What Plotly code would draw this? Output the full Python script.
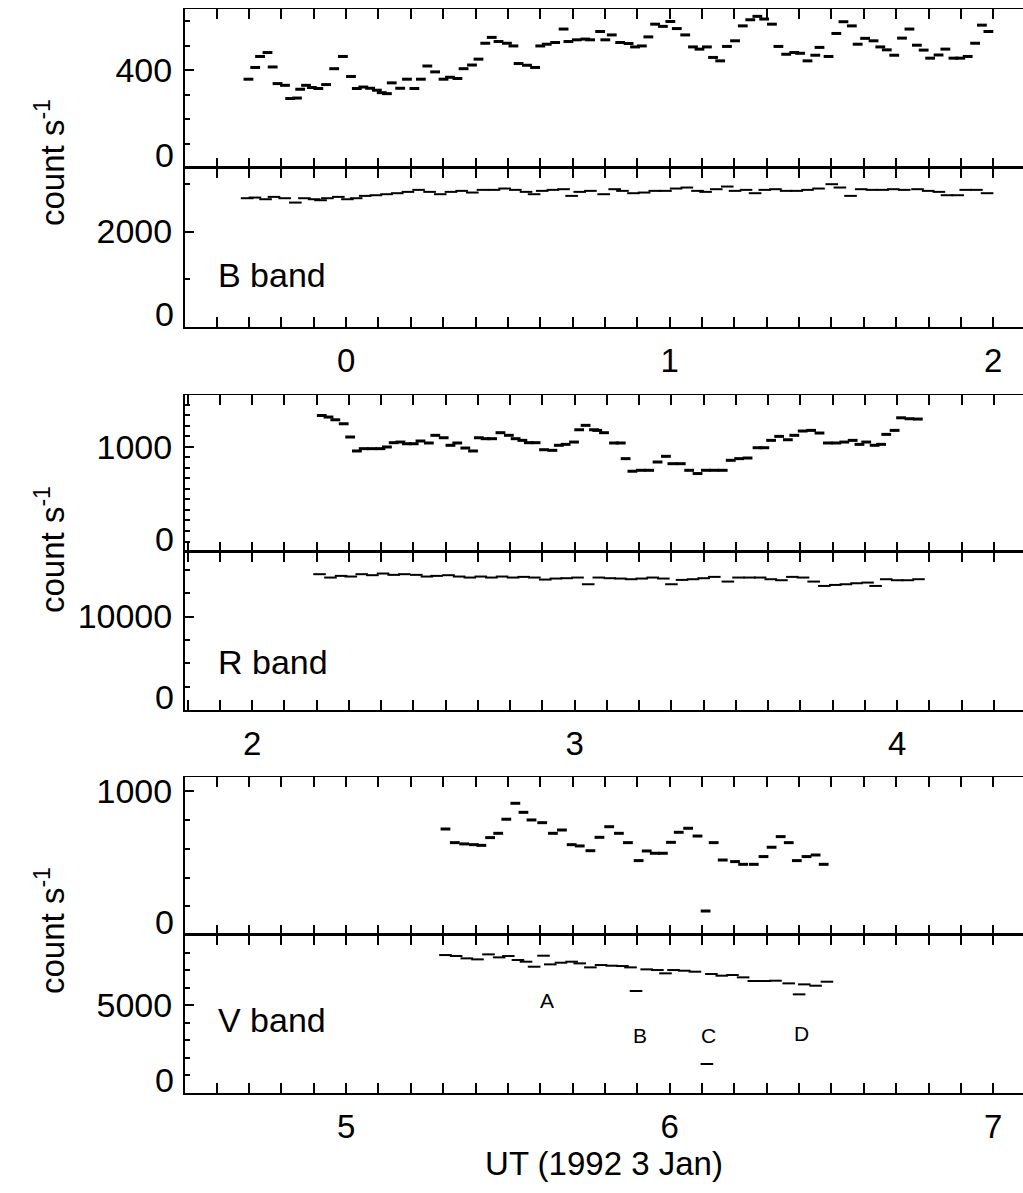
import plotly.graph_objects as go

# ---------------- data (UT hours, counts per second) ----------------
# B band, upper panel
b_hi_t = [-0.302, -0.281, -0.266, -0.243, -0.227, -0.212, -0.189, -0.173, -0.152, -0.142,
          -0.124, -0.106, -0.086, -0.062, -0.037, -0.010, 0.015, 0.033, 0.053, 0.074,
          0.095, 0.110, 0.126, 0.141, 0.167, 0.188, 0.211, 0.231, 0.251, 0.275,
          0.301, 0.321, 0.344, 0.363, 0.389, 0.409, 0.430, 0.450, 0.471, 0.497,
          0.517, 0.533, 0.559, 0.584, 0.600, 0.620, 0.646, 0.672, 0.687, 0.713,
          0.739, 0.754, 0.785, 0.801, 0.821, 0.847, 0.873, 0.893, 0.914, 0.934,
          0.955, 0.979, 1.002, 1.022, 1.048, 1.072, 1.092, 1.115, 1.134, 1.156,
          1.177, 1.202, 1.226, 1.249, 1.271, 1.292, 1.316, 1.336, 1.360, 1.385,
          1.403, 1.426, 1.450, 1.463, 1.491, 1.515, 1.537, 1.563, 1.581, 1.604,
          1.630, 1.651, 1.671, 1.694, 1.718, 1.741, 1.764, 1.785, 1.805, 1.831,
          1.852, 1.877, 1.898, 1.921, 1.944, 1.965, 1.985]
b_hi_c = [363, 411, 456, 472, 413, 345, 338, 284, 286, 322,
          338, 329, 325, 341, 406, 456, 374, 325, 331, 326,
          318, 308, 304, 348, 326, 363, 325, 363, 417, 393,
          363, 371, 366, 406, 421, 445, 510, 534, 517, 510,
          499, 427, 420, 411, 499, 506, 513, 568, 517, 524,
          527, 524, 558, 524, 544, 513, 509, 495, 499, 536,
          588, 579, 599, 570, 544, 495, 486, 495, 452, 438,
          497, 520, 581, 606, 620, 609, 588, 497, 465, 472,
          469, 438, 461, 493, 456, 550, 598, 581, 506, 530,
          520, 495, 483, 461, 531, 568, 502, 482, 449, 462,
          486, 449, 449, 456, 510, 584, 558]

# B band, lower panel
b_lo_t = [-0.306, -0.282, -0.249, -0.223, -0.190, -0.157, -0.129, -0.099, -0.079, -0.058,
          -0.024, 0.004, 0.031, 0.059, 0.092, 0.125, 0.158, 0.191, 0.224, 0.258,
          0.291, 0.324, 0.357, 0.390, 0.423, 0.457, 0.490, 0.523, 0.556, 0.581,
          0.606, 0.639, 0.672, 0.697, 0.722, 0.755, 0.796, 0.830, 0.854, 0.888,
          0.921, 0.954, 0.987, 1.020, 1.053, 1.086, 1.111, 1.144, 1.178, 1.202,
          1.236, 1.264, 1.294, 1.327, 1.360, 1.393, 1.426, 1.460, 1.501, 1.526,
          1.559, 1.592, 1.625, 1.658, 1.691, 1.725, 1.766, 1.799, 1.832, 1.857,
          1.890, 1.915, 1.948, 1.981]
b_lo_c = [2697, 2711, 2676, 2725, 2697, 2606, 2697, 2676, 2655, 2697,
          2725, 2676, 2697, 2746, 2760, 2781, 2802, 2830, 2872, 2830,
          2781, 2830, 2851, 2816, 2872, 2872, 2900, 2872, 2830, 2781,
          2851, 2872, 2886, 2746, 2830, 2851, 2781, 2886, 2851, 2802,
          2816, 2851, 2851, 2900, 2921, 2851, 2830, 2886, 2942, 2851,
          2872, 2802, 2872, 2886, 2851, 2851, 2872, 2900, 2991, 2921,
          2746, 2886, 2872, 2872, 2886, 2872, 2886, 2851, 2830, 2760,
          2760, 2872, 2872, 2802]

# R band, upper panel
r_hi_t = [2.216, 2.237, 2.258, 2.284, 2.304, 2.325, 2.346, 2.372, 2.398, 2.418,
          2.439, 2.460, 2.480, 2.501, 2.522, 2.548, 2.568, 2.594, 2.615, 2.636,
          2.661, 2.685, 2.703, 2.724, 2.744, 2.770, 2.796, 2.817, 2.838, 2.858,
          2.879, 2.905, 2.931, 2.951, 2.972, 2.998, 3.014, 3.034, 3.060, 3.070,
          3.091, 3.122, 3.143, 3.158, 3.179, 3.205, 3.231, 3.257, 3.283, 3.303,
          3.329, 3.355, 3.381, 3.407, 3.433, 3.459, 3.484, 3.510, 3.536, 3.567,
          3.588, 3.609, 3.634, 3.661, 3.681, 3.707, 3.733, 3.759, 3.785, 3.811,
          3.836, 3.862, 3.883, 3.904, 3.930, 3.950, 3.966, 3.992, 4.012, 4.038,
          4.064]
r_hi_c = [1300, 1285, 1259, 1221, 1095, 962, 984, 984, 984, 1000,
          1041, 1047, 1031, 1031, 1057, 1038, 1111, 1088, 1016, 1038,
          990, 962, 1088, 1079, 1079, 1136, 1111, 1079, 1063, 1041,
          1041, 974, 968, 1016, 1025, 1047, 1164, 1206, 1164, 1158,
          1136, 1038, 1038, 889, 769, 778, 778, 857, 911, 841,
          841, 778, 747, 778, 778, 778, 873, 889, 895, 993,
          993, 1063, 1101, 1069, 1111, 1152, 1158, 1133, 1038, 1038,
          1047, 1063, 1025, 1047, 1016, 1025, 1120, 1158, 1278, 1269,
          1266]

# R band, lower panel
r_lo_t = [2.209, 2.243, 2.276, 2.306, 2.340, 2.373, 2.406, 2.439, 2.472, 2.509,
          2.542, 2.572, 2.609, 2.642, 2.675, 2.709, 2.742, 2.775, 2.809, 2.842,
          2.875, 2.909, 2.942, 2.975, 3.009, 3.042, 3.075, 3.109, 3.142, 3.175,
          3.208, 3.242, 3.275, 3.300, 3.333, 3.367, 3.400, 3.433, 3.475, 3.508,
          3.542, 3.575, 3.608, 3.641, 3.675, 3.708, 3.741, 3.774, 3.808, 3.841,
          3.874, 3.908, 3.933, 3.966, 4.000, 4.033, 4.066]
r_lo_c = [14526, 14167, 14346, 14275, 14526, 14418, 14597, 14454, 14526, 14454,
          14275, 14346, 14418, 14275, 14167, 14275, 14167, 14275, 14167, 14239,
          14167, 13952, 14060, 14096, 14167, 13450, 14167, 14096, 14060, 13988,
          14060, 14167, 14060, 13450, 13916, 13988, 14096, 14239, 13737, 14167,
          14167, 14167, 13988, 13880, 14239, 14167, 13737, 13271, 13378, 13450,
          13557, 13629, 13271, 13988, 13880, 13880, 13988]

# V band, upper panel
v_hi_t = [5.307, 5.336, 5.365, 5.395, 5.418, 5.445, 5.470, 5.495, 5.523, 5.548,
          5.573, 5.606, 5.639, 5.667, 5.697, 5.722, 5.755, 5.783, 5.813, 5.843,
          5.871, 5.904, 5.929, 5.954, 5.979, 6.004, 6.028, 6.057, 6.086, 6.111,
          6.136, 6.164, 6.202, 6.227, 6.260, 6.290, 6.315, 6.343, 6.368, 6.393,
          6.423, 6.451, 6.476]
v_hi_c = [738, 643, 634, 629, 624, 678, 708, 806, 917, 854,
          801, 782, 708, 731, 629, 620, 587, 680, 754, 708,
          643, 518, 585, 569, 569, 645, 715, 743, 689, 167,
          643, 522, 511, 492, 492, 546, 611, 685, 643, 518,
          546, 557, 492]

# V band, lower panel
v_lo_t = [5.307, 5.340, 5.373, 5.406, 5.440, 5.473, 5.501, 5.531, 5.556, 5.581,
          5.610, 5.631, 5.664, 5.697, 5.722, 5.755, 5.788, 5.821, 5.854, 5.879,
          5.896, 5.929, 5.962, 5.987, 6.012, 6.045, 6.078, 6.115, 6.129, 6.161,
          6.194, 6.227, 6.260, 6.294, 6.327, 6.368, 6.400, 6.416, 6.451, 6.486]
v_lo_c = [7858, 7802, 7669, 7612, 7896, 7726, 7802, 7574, 7479, 7194,
          7821, 7327, 7422, 7479, 7384, 7156, 7289, 7251, 7232, 7156,
          5809, 7042, 7004, 6815, 7004, 6966, 6910, 1652, 6777, 6682,
          6720, 6587, 6378, 6378, 6397, 6245, 5619, 6188, 6112, 6340]

# event labels in the V band lower panel
event_names = ["A", "B", "C", "D"]
event_t = [5.622, 5.909, 6.119, 6.406]
event_c = [5296, 3303, 3303, 3398]

band_names = ["B band", "R band", "V band"]

# ---------------- layout helpers ----------------
W, H = 1023, 1193
FONT = "Liberation Sans, Arial, Helvetica, sans-serif"
X0 = 185 / W

def ydom(top, bot):
    return [1 - bot / H, 1 - top / H]

panels = [
    # (top px, bottom px, yrange, dtick, minor dtick, xrange, times, counts, upper?)
    (9, 168, [0, 650], 400, 100, [-0.498, 2.092], b_hi_t, b_hi_c, True),
    (168, 327, [0, 3330], 2000, 1000, [-0.498, 2.092], b_lo_t, b_lo_c, False),
    (395, 552, [0, 1495], 1000, 100, [1.792, 4.39], r_hi_t, r_hi_c, True),
    (552, 710, [0, 16900], 10000, 2500, [1.792, 4.39], r_lo_t, r_lo_c, False),
    (777, 935, [0, 1100], 1000, 200, [4.502, 7.092], v_hi_t, v_hi_c, True),
    (935, 1093, [0, 9000], 5000, 1000, [4.502, 7.092], v_lo_t, v_lo_c, False),
]

fig = go.Figure()
layout = dict(
    width=W, height=H,
    margin=dict(l=0, r=0, t=0, b=0, autoexpand=False),
    paper_bgcolor="white", plot_bgcolor="white",
    showlegend=False,
    font=dict(family=FONT, color="black", size=34),
)

NP = len(panels)
for i, (top, bot, yr, dt, mdt, xr, tt, cc, upper) in enumerate(panels, start=1):
    xa = "x" if i == 1 else f"x{i}"
    ya = "y" if i == 1 else f"y{i}"
    fig.add_trace(go.Scatter(
        x=tt, y=cc, mode="markers", xaxis=xa, yaxis=ya,
        marker=dict(symbol="line-ew", size=7 if upper else 9,
                    line=dict(width=3 if upper else 2, color="black"), color="black"),
        hoverinfo="skip",
    ))
    xkey = "xaxis" if i == 1 else f"xaxis{i}"
    ykey = "yaxis" if i == 1 else f"yaxis{i}"
    layout[xkey] = dict(
        domain=[X0, 1.0], range=xr, anchor=ya, automargin=False,
        showline=True, linecolor="black", linewidth=1 if upper else 2, mirror="allticks",
        ticks="inside", ticklen=10, tickwidth=2, tickcolor="black",
        tick0=0, dtick=1,
        minor=dict(dtick=0.1, ticks="inside", ticklen=5, tickwidth=1.5, tickcolor="black"),
        showgrid=False, zeroline=False,
        showticklabels=not upper,
        tickfont=dict(size=33, family=FONT, color="black"),
        ticklabelstandoff=3,
    )
    # main y axis: line, ticks and the non-zero label
    layout[ykey] = dict(
        domain=ydom(top, bot), range=yr, anchor=xa, automargin=False,
        showline=True, linecolor="black", linewidth=2, mirror=False,
        ticks="inside", ticklen=9, tickwidth=2, tickcolor="black",
        tickmode="array", tickvals=[0, dt], ticktext=["", str(dt)],
        minor=dict(tick0=0, dtick=mdt, ticks="inside", ticklen=5, tickwidth=1.5, tickcolor="black"),
        showgrid=False, zeroline=False,
        tickfont=dict(size=34, family=FONT, color="black"),
        ticklabelstandoff=4,
    )
    # overlay y axis carrying only the "0" label, lifted off the axis bottom
    j = i + NP
    oy = f"y{j}"
    fig.add_trace(go.Scatter(x=[], y=[], xaxis=xa, yaxis=oy, mode="markers",
                             hoverinfo="skip", showlegend=False))
    layout[f"yaxis{j}"] = dict(
        domain=ydom(top, bot), range=yr, anchor=xa, overlaying=ya, side="left",
        automargin=False, showline=False, ticks="", showgrid=False, zeroline=False,
        tickmode="array", tickvals=[0], ticktext=["0"],
        tickfont=dict(size=34, family=FONT, color="black"),
        ticklabelstandoff=10, ticklabelshift=-13,
    )

layout["xaxis6"]["title"] = dict(text="UT (1992 3 Jan)", font=dict(size=33, family=FONT, color="black"),
                                 standoff=0)

annotations = []
# band names
for name, ypix in zip(band_names, [275, 662, 1020]):
    annotations.append(dict(text=name, xref="paper", yref="paper", x=216 / W, y=1 - ypix / H,
                            xanchor="left", yanchor="middle", showarrow=False,
                            font=dict(size=34, family=FONT, color="black")))
# y titles
for ypix in [163, 550, 931]:
    annotations.append(dict(text="count s<sup>-1</sup>", xref="paper", yref="paper",
                            x=50 / W, y=1 - ypix / H, xanchor="center", yanchor="middle",
                            textangle=-90, showarrow=False,
                            font=dict(size=33, family=FONT, color="black")))
# event letters
for nm, t, c in zip(event_names, event_t, event_c):
    annotations.append(dict(text=nm, xref="x6", yref="y6", x=t, y=c, showarrow=False,
                            xanchor="center", yanchor="middle",
                            font=dict(size=21, family=FONT, color="black")))
layout["annotations"] = annotations

fig.update_layout(**layout)
fig.write_html("out.html")
